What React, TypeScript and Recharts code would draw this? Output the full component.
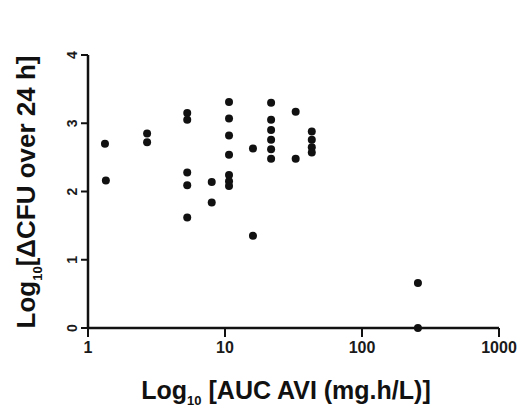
import { ScatterChart, Scatter, XAxis, YAxis } from "recharts"

// AUC AVI (mg.h/L) and log10 change in CFU over 24 h
const aucValues = [
  1.33, 1.35, 2.7, 2.7, 5.3, 5.3, 5.3, 5.3, 5.3, 8.0, 8.0,
  10.7, 10.7, 10.7, 10.7, 10.7, 10.7, 10.7, 16, 16,
  21.7, 21.7, 21.7, 21.7, 21.7, 21.7, 32.8, 32.8,
  43, 43, 43, 43, 256, 256,
]
const deltaCfu = [
  2.7, 2.16, 2.85, 2.72, 3.15, 3.05, 2.28, 2.09, 1.62, 2.14, 1.84,
  3.31, 3.07, 2.82, 2.54, 2.24, 2.15, 2.08, 2.63, 1.35,
  3.3, 3.05, 2.9, 2.76, 2.62, 2.48, 3.17, 2.48,
  2.88, 2.76, 2.65, 2.57, 0.66, 0,
]
const xTicks = [1, 10, 100, 1000]
const yTicks = [0, 1, 2, 3, 4]

const points = aucValues.map((x, i) => ({ x, y: deltaCfu[i] }))

const FONT = '"Liberation Sans", Arial, sans-serif'

const YTick = ({ x, y, payload }: any) => (
  <text
    x={x - 2}
    y={y}
    transform={`rotate(-90 ${x - 2} ${y})`}
    textAnchor="middle"
    fontFamily={FONT}
    fontWeight="bold"
    fontSize={14}
    fill="#1a1a1a"
  >
    {payload.value}
  </text>
)

const Dot = ({ cx, cy }: any) => <circle cx={cx} cy={cy} r={4} fill="#111" />

export default function App() {
  return (
    <div style={{ position: "absolute", left: 0, top: 0, width: 517, height: 413, background: "#fff" }}>
      <ScatterChart width={517} height={413} margin={{ top: 55, right: 18, left: 48, bottom: 55 }}>
        <XAxis
          type="number"
          dataKey="x"
          scale="log"
          domain={[1, 1000]}
          ticks={xTicks}
          allowDataOverflow
          height={30}
          tickSize={9}
          axisLine={{ stroke: "#111", strokeWidth: 2.5 }}
          tickLine={{ stroke: "#111", strokeWidth: 2 }}
          tick={{ fill: "#1a1a1a", fontFamily: FONT, fontWeight: "bold", fontSize: 16, dy: 3 }}
          interval={0}
        />
        <YAxis
          type="number"
          dataKey="y"
          domain={[0, 4]}
          ticks={yTicks}
          width={40}
          tickSize={7}
          axisLine={{ stroke: "#111", strokeWidth: 2.5 }}
          tickLine={{ stroke: "#111", strokeWidth: 2 }}
          tick={<YTick />}
          interval={0}
        />
        <Scatter data={points} fill="#111" shape={<Dot />} isAnimationActive={false} />
      </ScatterChart>
      <div
        style={{
          position: "absolute",
          left: 286,
          top: 392,
          transform: "translate(-50%, -50%)",
          fontFamily: FONT,
          fontWeight: "bold",
          fontSize: 25,
          color: "#111",
          whiteSpace: "nowrap",
        }}
      >
        Log<sub style={{ fontSize: 13 }}>10</sub> [AUC AVI (mg.h/L)]
      </div>
      <div
        style={{
          position: "absolute",
          left: 28,
          top: 192,
          transform: "translate(-50%, -50%) rotate(-90deg)",
          fontFamily: FONT,
          fontWeight: "bold",
          fontSize: 26,
          color: "#111",
          whiteSpace: "nowrap",
        }}
      >
        Log<sub style={{ fontSize: 13 }}>10</sub>[ΔCFU over 24 h]
      </div>
    </div>
  )
}
